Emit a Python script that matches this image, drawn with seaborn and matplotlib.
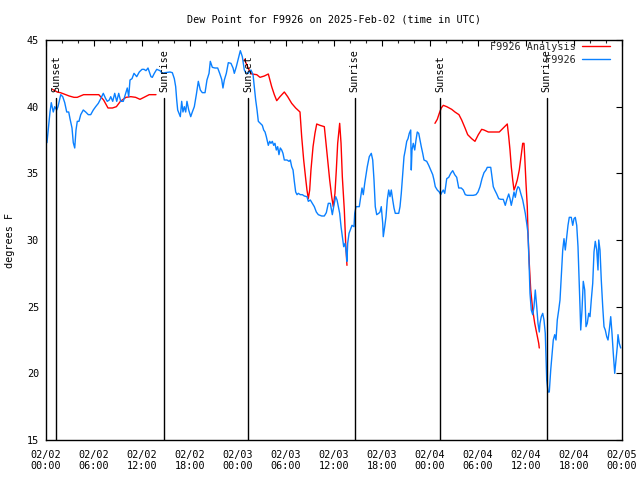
import numpy as np
import pandas as pd
import matplotlib
matplotlib.use("Agg")
import matplotlib.pyplot as plt
import matplotlib.dates as mdates
from matplotlib.lines import Line2D
from matplotlib.transforms import blended_transform_factory
import seaborn as sns

# ---------------- data (hours after 2025-02-02 00:00 UTC, dew point in F) -------------
obs_hours = [0.12, 0.5, 0.66, 0.91, 1.09, 1.34, 1.5, 1.84, 2.09, 2.34, 2.59, 2.84, 3.0, 3.25, 3.41,
             3.59, 3.75, 3.91, 4.12, 4.34, 4.66, 4.96, 5.29, 5.59, 5.91, 6.21, 6.54, 6.84, 7.16, 7.46,
             7.66, 7.91, 8.09, 8.34, 8.59, 8.84, 9.09, 9.34, 9.66, 9.91, 10.16, 10.34, 10.5, 10.75, 11.0,
             11.34, 11.66, 12.0, 12.25, 12.5, 12.75, 13.12, 13.29, 13.54, 13.84, 14.25, 14.54, 14.88, 15.5,
             15.79, 16.04, 16.21, 16.34, 16.46, 16.62, 16.79, 16.96, 17.12, 17.29, 17.46, 17.62, 17.84,
             18.09, 18.29, 18.54, 18.79, 19.04, 19.29, 19.54, 19.88, 20.12, 20.38, 20.54, 20.79, 21.12,
             21.46, 21.71, 21.96, 22.12, 22.29, 22.54, 22.79, 23.12, 23.38, 23.54, 23.79, 24.04, 24.29,
             24.54, 24.79, 24.96, 25.29, 25.62, 25.88, 26.04, 26.21, 26.38, 26.54, 26.79, 27.04, 27.21,
             27.38, 27.54, 27.79, 27.96, 28.12, 28.29, 28.46, 28.62, 28.79, 28.96, 29.12, 29.29, 29.46,
             29.62, 29.79, 30.12, 30.38, 30.54, 30.71, 30.88, 31.04, 31.21, 31.38, 31.54, 31.79, 32.04,
             32.29, 32.62, 32.79, 33.04, 33.29, 33.54, 33.79, 34.04, 34.46, 34.79, 35.04, 35.29, 35.54,
             35.79, 35.96, 36.21, 36.38, 36.54, 36.71, 36.88, 37.04, 37.21, 37.38, 37.54, 37.62, 37.71,
             37.88, 38.04, 38.25, 38.5, 38.59, 38.75, 39.16, 39.34, 39.5, 39.66, 39.84, 40.0, 40.16,
             40.41, 40.66, 40.84, 41.0, 41.16, 41.34, 41.59, 41.75, 41.91, 42.09, 42.16, 42.34, 42.5,
             42.66, 42.84, 43.0, 43.16, 43.34, 43.5, 43.66, 44.09, 44.25, 44.41, 44.59, 44.75, 44.91,
             45.09, 45.25, 45.41, 45.59, 45.66, 45.75, 45.91, 46.09, 46.25, 46.41, 46.59, 46.75, 46.91,
             47.09, 47.25, 47.59, 47.84, 48.09, 48.34, 48.5, 48.66, 48.91, 49.16, 49.34, 49.5, 49.66,
             49.84, 50.09, 50.34, 50.59, 50.84, 51.09, 51.34, 51.59, 51.91, 52.16, 52.41, 52.66, 53.0,
             53.41, 53.75, 54.0, 54.25, 54.5, 54.75, 55.0, 55.16, 55.59, 55.75, 55.91, 56.09, 56.34,
             56.59, 56.84, 57.16, 57.41, 57.59, 57.84, 58.0, 58.16, 58.34, 58.5, 58.66, 58.84, 59.0,
             59.16, 59.34, 59.59, 59.75, 59.91, 60.09, 60.25, 60.34, 60.41, 60.5, 60.66, 60.84, 61.0,
             61.16, 61.34, 61.5, 61.66, 61.75, 61.91, 62.09, 62.25, 62.41, 62.5, 62.59, 62.75, 62.91,
             63.09, 63.25, 63.41, 63.59, 63.75, 63.91, 64.09, 64.25, 64.41, 64.59, 64.75, 64.91, 65.09,
             65.25, 65.41, 65.66, 65.84, 66.0, 66.16, 66.34, 66.5, 66.66, 66.75, 66.84, 67.0, 67.16,
             67.34, 67.5, 67.66, 67.84, 68.0, 68.16, 68.34, 68.5, 68.66, 68.84, 69.0, 69.09, 69.25,
             69.41, 69.59, 69.75, 69.91, 70.09, 70.25, 70.41, 70.59, 70.75, 70.91, 71.09, 71.25, 71.41,
             71.5, 71.66, 71.84]
obs_dewpt = [37.3, 39.6, 40.3, 39.6, 40.0, 39.75, 40.0, 40.9, 40.75, 40.3, 39.6, 39.6, 39.1, 38.4, 37.3,
             36.9, 38.25, 38.9, 38.9, 39.4, 39.75, 39.6, 39.4, 39.4, 39.75, 40.0, 40.25, 40.6, 41.0, 40.6,
             40.4, 40.5, 40.75, 40.4, 41.0, 40.4, 41.0, 40.4, 40.4, 40.9, 41.4, 40.75, 42.0, 42.1, 42.5,
             42.25, 42.6, 42.8, 42.8, 42.7, 42.9, 42.25, 42.2, 42.5, 42.8, 42.7, 42.5, 42.55, 42.6,
             42.55, 42.1, 41.5, 40.5, 39.75, 39.5, 39.25, 40.4, 39.6, 40.0, 39.6, 40.4, 39.75,
             39.25, 39.6, 40.0, 40.9, 41.9, 41.25, 41.05, 41.05, 42.0, 42.5, 43.4, 42.95, 42.9,
             42.9, 42.5, 42.05, 41.4, 42.0, 42.5, 43.3, 43.25, 42.9, 42.5, 43.0, 43.6, 44.2,
             43.75, 42.75, 42.55, 42.5, 42.75, 42.4, 41.5, 40.5, 39.75, 38.9, 38.75, 38.6, 38.25,
             38.1, 37.75, 37.1, 37.4, 37.25, 37.4, 37.1, 37.25, 36.75, 37.0, 36.4, 36.9, 36.75,
             36.5, 36.0, 36.0, 35.9, 36.0, 35.5, 35.25, 34.4, 33.6, 33.4, 33.5, 33.4, 33.4,
             33.3, 33.25, 32.9, 33.0, 32.75, 32.5, 32.1, 31.9, 31.8, 31.8, 32.05, 32.75, 32.75,
             31.9, 32.5, 33.25, 33.0, 32.5, 32.0, 31.0, 30.25, 29.5, 29.75, 29.0, 28.4, 29.75,
             30.5, 30.75, 31.1, 31.0, 32.0, 32.5, 32.5, 33.25, 33.9, 33.4, 34.25, 34.9, 35.5,
             36.25, 36.5, 36.0, 34.5, 32.5, 31.9, 32.0, 32.1, 32.5, 31.25, 30.25, 31.0, 31.75,
             33.0, 33.75, 33.25, 33.75, 33.0, 32.4, 32.0, 32.0, 32.5, 33.5, 35.0, 36.25, 36.75,
             37.4, 37.6, 38.0, 38.25, 35.25, 36.75, 37.25, 36.75, 37.5, 38.1, 38.0, 37.5, 37.0,
             36.5, 36.0, 35.9, 35.6, 35.25, 34.9, 34.5, 34.0, 33.75, 33.6, 33.4, 33.6, 33.75,
             33.5, 34.6, 34.7, 35.0, 35.2, 34.9, 34.7, 33.9, 33.9, 33.75, 33.4, 33.35, 33.35,
             33.35, 33.4, 33.6, 34.0, 34.6, 35.05, 35.25, 35.45, 35.45, 34.75, 34.0, 33.75, 33.45,
             33.1, 33.05, 33.05, 32.6, 33.0, 33.45, 33.1, 32.6, 33.1, 33.6, 33.2, 33.75, 34.0,
             33.9, 33.5, 33.0, 32.5, 32.0, 31.25, 30.5, 29.0, 27.75, 26.0, 24.75, 24.4, 25.0,
             26.25, 25.0, 23.75, 23.1, 23.75, 24.25, 24.5, 24.0, 23.0, 21.25, 19.5, 18.6, 18.6,
             20.25, 21.4, 22.5, 22.9, 22.5, 24.0, 24.75, 25.5, 27.25, 29.25, 30.1, 29.25, 30.25,
             31.1, 31.7, 31.7, 31.1, 31.6, 31.7, 31.1, 29.5, 26.75, 25.0, 23.25, 24.75, 26.9,
             26.25, 23.5, 23.75, 24.5, 24.25, 25.5, 26.75, 29.1, 29.9, 29.25, 27.75, 30.0, 29.25,
             27.0, 25.0, 23.5, 23.25, 22.75, 22.5, 23.25, 24.25, 23.0, 21.5, 20.0, 21.0, 22.0,
             22.9, 22.25, 21.9]

ana_hours = [0.8, 1.4, 1.8, 2.25, 2.9, 3.5, 3.9, 4.3, 4.7, 5.4, 6.6, 7.2, 7.75, 8.3, 8.8, 9.3, 10.0,
             10.6, 11.2, 11.75, 12.25, 12.9, 13.75,
             24.8, 25.38, 25.71, 26.34, 26.75, 27.29, 27.79, 28.21, 28.54, 28.84, 29.25, 29.79, 30.21,
             30.71, 31.21, 31.75, 31.96, 32.21, 32.46, 32.62, 32.79, 32.96, 33.12, 33.38, 33.62, 33.84,
             34.25, 34.79, 34.96, 35.21, 35.46, 35.71, 35.91, 36.12, 36.29, 36.46, 36.71, 36.88, 37.04,
             37.29, 37.46, 37.62,
             48.62, 48.91, 49.16, 49.41, 49.66, 50.09, 50.71, 51.12, 51.62, 51.96, 52.38, 52.71, 53.21,
             53.62, 54.04, 54.46, 54.75, 55.29, 55.91, 56.66, 57.16, 57.66, 57.84, 58.0, 58.16, 58.34,
             58.5, 58.66, 58.91, 59.16, 59.41, 59.59, 59.75, 59.84, 60.0, 60.16, 60.25, 60.41, 60.59,
             60.84, 61.09, 61.34, 61.59, 61.66]
ana_dewpt = [41.3, 41.1, 41.05, 40.95, 40.8, 40.7, 40.7, 40.8, 40.9, 40.9, 40.9, 40.5, 39.9, 39.9, 40.0,
             40.4, 40.7, 40.75, 40.7, 40.55, 40.7, 40.9, 40.9,
             43.55, 42.75, 42.45, 42.4, 42.2, 42.3, 42.45, 41.5, 40.9, 40.45, 40.75, 41.1, 40.75,
             40.25, 39.9, 39.6, 37.75, 36.0, 34.6, 33.75, 33.1, 33.75, 35.25, 37.0, 38.0, 38.7,
             38.6, 38.5, 37.5, 36.0, 34.5, 33.25, 32.5, 33.5, 35.25, 37.25, 38.75, 37.25, 34.75,
             32.25, 29.75, 28.1,
             38.75, 39.05, 39.5, 39.9, 40.1, 40.0, 39.8, 39.6, 39.4, 39.0, 38.4, 37.9, 37.6,
             37.4, 37.9, 38.3, 38.25, 38.1, 38.1, 38.1, 38.4, 38.7, 37.75, 36.75, 35.5, 34.5,
             33.75, 34.0, 34.5, 35.25, 36.4, 37.25, 37.25, 36.25, 34.25, 32.5, 30.5, 28.25, 26.25,
             24.75, 23.75, 23.0, 22.25, 21.9]
ana_segment = [1] * 23 + [2] * 42 + [3] * 44

sun_hours = [1.25, 14.75, 25.25, 38.6, 49.25, 62.6]
sun_labels = ["Sunset", "Sunrise", "Sunset", "Sunrise", "Sunset", "Sunrise"]

title = "Dew Point for F9926 on 2025-Feb-02 (time in UTC)"
ylabel = "degrees F"
obs_name = "F9926"
ana_name = "F9926 Analysis"
y_ticks = [15, 20, 25, 30, 35, 40, 45]

# ---------------- build frames ----------------
base = pd.Timestamp("2025-02-02 00:00")
obs_df = pd.DataFrame({"time": base + pd.to_timedelta(obs_hours, unit="h"),
                       "dewpt": obs_dewpt})
ana_df = pd.DataFrame({"time": base + pd.to_timedelta(ana_hours, unit="h"),
                       "dewpt": ana_dewpt, "seg": ana_segment})
sun_times = base + pd.to_timedelta(sun_hours, unit="h")

# ---------------- style ----------------
sns.set_style("white")
FONT = ["DejaVu Sans Mono"]
plt.rcParams["font.family"] = FONT
FS = 7.3
RED = "#ff0000"
BLUE = "#0a80ff"

fig = plt.figure(figsize=(6.4, 4.8), dpi=100)
ax = fig.add_axes([46 / 640, 40 / 480, 576 / 640, 400 / 480])

sns.lineplot(data=ana_df, x="time", y="dewpt", units="seg", estimator=None,
             color=RED, linewidth=1.0, ax=ax, legend=False)
sns.lineplot(data=obs_df, x="time", y="dewpt", estimator=None,
             color=BLUE, linewidth=1.0, ax=ax, legend=False)

# sunrise / sunset markers
trans = blended_transform_factory(ax.transData, ax.transAxes)
for t, lab in zip(sun_times, sun_labels):
    ax.axvline(t, ymin=0, ymax=0.855, color="black", linewidth=1.0)
    ax.text(t, 0.87, lab, rotation=90, transform=trans, ha="center", va="bottom",
            fontsize=FS, color="black")

# axes
ax.set_xlim(base, base + pd.Timedelta(hours=72))
ax.set_ylim(15, 45)
ax.set_yticks(y_ticks)
ax.xaxis.set_major_locator(mdates.HourLocator(byhour=[0, 6, 12, 18]))
ax.xaxis.set_minor_locator(mdates.HourLocator(interval=2))
ax.xaxis.set_major_formatter(mdates.DateFormatter("%m/%d\n%H:%M"))
ax.set_xlabel("")
ax.set_ylabel("")
ax.tick_params(axis="both", which="major", direction="in", length=4, width=0.8,
               top=True, right=True, labelsize=FS, colors="black")
ax.tick_params(axis="both", which="minor", direction="in", length=2, width=0.8,
               top=True, right=False)
ax.tick_params(axis="x", which="major", pad=7)
ax.tick_params(axis="y", which="major", pad=5)
for sp in ax.spines.values():
    sp.set_visible(True)
    sp.set_color("black")
    sp.set_linewidth(1.0)

fig.text((46 + 622) / 2 / 640, 1 - 19 / 480, title, ha="center", va="center",
         fontsize=FS, color="black")
fig.text(10 / 640, 0.5, ylabel, rotation=90, ha="center", va="center",
         fontsize=FS, color="black")

# legend (right-aligned labels, line sample to the right)
width = max(len(ana_name), len(obs_name))
handles = [Line2D([], [], color=RED, linewidth=1.0),
           Line2D([], [], color=BLUE, linewidth=1.0)]
labels = [ana_name.rjust(width), obs_name.rjust(width)]
leg = ax.legend(handles, labels, loc="upper right", bbox_to_anchor=(0.98, 0.995),
                frameon=False, markerfirst=False, fontsize=FS, handlelength=2.8,
                handletextpad=0.6, labelspacing=0.25, borderpad=0.0, borderaxespad=0.0)

fig.savefig("out.png", dpi=100, facecolor="white")
